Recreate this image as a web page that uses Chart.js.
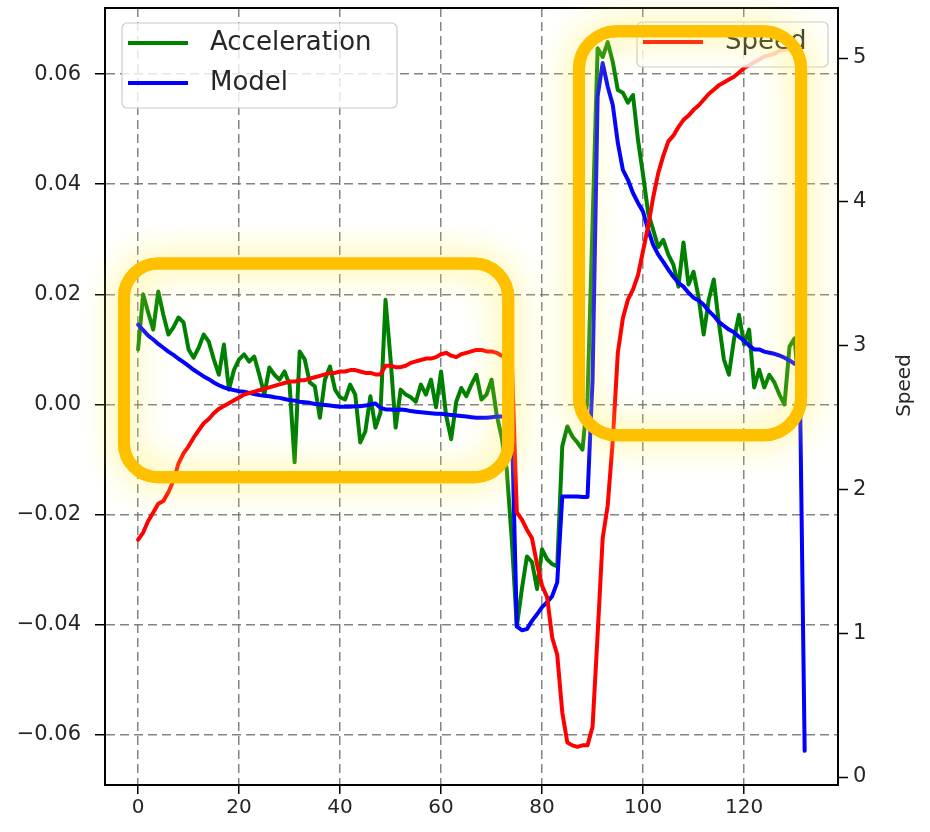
<!DOCTYPE html>
<html>
<head>
<meta charset="utf-8">
<script src="https://cdn.jsdelivr.net/npm/chart.js@4.4.1/dist/chart.umd.min.js"></script>
<style>
  html, body { margin: 0; padding: 0; background: #fff; }
  #wrap { width: 930px; height: 832px; position: relative; }
</style>
</head>
<body>
<div id="wrap"><canvas id="chart-accel"></canvas></div>
<script>
// sample index along x
var steps = [];
for (var i = 0; i <= 132; i++) steps.push(i);

var acceleration = [
    0.0100, 0.0200, 0.0167, 0.0136, 0.0205, 0.0163, 0.0127, 0.0140, 0.0158, 0.0149,
    0.0100, 0.0085, 0.0103, 0.0127, 0.0114, 0.0082, 0.0054, 0.0109, 0.0027, 0.0063,
    0.0082, 0.0091, 0.0078, 0.0087, 0.0054, 0.0018, 0.0067, 0.0054, 0.0045, 0.0060,
    0.0036, -0.0105, 0.0096, 0.0082, 0.0040, 0.0033, -0.0024, 0.0045, 0.0069, 0.0027,
    0.0013, 0.0009, 0.0036, 0.0018, -0.0069, -0.0049, 0.0015, -0.0042, -0.0015, 0.0190,
    0.0082, -0.0042, 0.0027, 0.0018, 0.0013, 0.0005, 0.0036, 0.0018, 0.0045, -0.0005,
    0.0060, -0.0020, -0.0063, 0.0005, 0.0030, 0.0015, 0.0036, 0.0054, 0.0009, 0.0018,
    0.0045, -0.0018, -0.0060, -0.0118, -0.0245, -0.0403, -0.0335, -0.0276, -0.0286, -0.0335,
    -0.0263, -0.0281, -0.0290, -0.0294, -0.0076, -0.0040, -0.0058, -0.0069, -0.0082, 0.0012,
    0.0330, 0.0647, 0.0631, 0.0658, 0.0622, 0.0571, 0.0566, 0.0548, 0.0562, 0.0480,
    0.0417, 0.0348, 0.0317, 0.0286, 0.0299, 0.0272, 0.0254, 0.0214, 0.0294, 0.0218,
    0.0241, 0.0194, 0.0127, 0.0190, 0.0227, 0.0149, 0.0082, 0.0054, 0.0118, 0.0163,
    0.0109, 0.0136, 0.0031, 0.0063, 0.0031, 0.0054, 0.0040, 0.0018, 0.0000, 0.0105,
    0.0120, 0.0015, null
];

var model = [
    0.0145, 0.0135, 0.0125, 0.0118, 0.0110, 0.0103, 0.0096, 0.0090, 0.0083, 0.0077,
    0.0070, 0.0063, 0.0057, 0.0051, 0.0046, 0.0040, 0.0035, 0.0031, 0.0028, 0.0026,
    0.0024, 0.0023, 0.0021, 0.0019, 0.0017, 0.0016, 0.0015, 0.0013, 0.0012, 0.0010,
    0.0008, 0.0007, 0.0005, 0.0004, 0.0003, 0.0001, 0.0000, -0.0001, -0.0002, -0.0003,
    -0.0004, -0.0004, -0.0004, -0.0003, -0.0003, -0.0002, 0.0000, 0.0002, -0.0006, -0.0009,
    -0.0009, -0.0010, -0.0009, -0.0010, -0.0012, -0.0013, -0.0014, -0.0015, -0.0016, -0.0017,
    -0.0017, -0.0018, -0.0019, -0.0020, -0.0021, -0.0022, -0.0023, -0.0024, -0.0024, -0.0024,
    -0.0023, -0.0022, -0.0022, -0.0023, -0.0030, -0.0403, -0.0410, -0.0408, -0.0393, -0.0381,
    -0.0368, -0.0359, -0.0348, -0.0323, -0.0167, -0.0167, -0.0167, -0.0167, -0.0168, -0.0168,
    0.0045, 0.0560, 0.0620, 0.0577, 0.0544, 0.0475, 0.0426, 0.0408, 0.0384, 0.0366,
    0.0350, 0.0317, 0.0290, 0.0272, 0.0259, 0.0245, 0.0232, 0.0221, 0.0214, 0.0203,
    0.0194, 0.0189, 0.0181, 0.0170, 0.0161, 0.0150, 0.0143, 0.0136, 0.0131, 0.0123,
    0.0116, 0.0107, 0.0100, 0.0100, 0.0096, 0.0094, 0.0092, 0.0089, 0.0085, 0.0080,
    0.0074, 0.0073, -0.0629
];

var speed = [
    1.65, 1.70, 1.78, 1.84, 1.90, 1.92, 1.98, 2.06, 2.18, 2.25,
    2.30, 2.36, 2.41, 2.46, 2.49, 2.53, 2.56, 2.58, 2.60, 2.62,
    2.64, 2.66, 2.67, 2.68, 2.69, 2.70, 2.71, 2.72, 2.73, 2.74,
    2.75, 2.75, 2.76, 2.76, 2.77, 2.78, 2.79, 2.80, 2.81, 2.81,
    2.82, 2.82, 2.83, 2.83, 2.82, 2.81, 2.81, 2.80, 2.80, 2.86,
    2.86, 2.85, 2.85, 2.86, 2.88, 2.89, 2.90, 2.91, 2.91, 2.92,
    2.94, 2.95, 2.93, 2.92, 2.94, 2.95, 2.96, 2.97, 2.97, 2.96,
    2.96, 2.95, 2.93, 2.92, 2.90, 1.84, 1.79, 1.72, 1.66, 1.48,
    1.33, 1.25, 0.97, 0.85, 0.45, 0.24, 0.22, 0.21, 0.22, 0.22,
    0.35, 0.99, 1.66, 1.89, 2.34, 2.95, 3.19, 3.32, 3.39, 3.49,
    3.66, 3.83, 4.03, 4.20, 4.32, 4.42, 4.46, 4.52, 4.57, 4.60,
    4.64, 4.67, 4.71, 4.75, 4.78, 4.81, 4.83, 4.85, 4.87, 4.90,
    4.93, 4.95, 4.97, 4.99, 5.01, 5.02, 5.03, 5.05, 5.06, 5.06,
    5.07, 5.08, 2.67
];

var xTicks = [0, 20, 40, 60, 80, 100, 120];
var accelTicks = [-0.06, -0.04, -0.02, 0.00, 0.02, 0.04, 0.06];
var speedTicks = [0, 1, 2, 3, 4, 5];

// highlighted regions, in data units of x / left axis
var highlights = [
    { x0: -2.8, x1: 73.3, y0: 0.0256, y1: -0.0132, r: 34 },
    { x0: 87.3, x1: 131.3, y0: 0.0678, y1: -0.0056, r: 38 }
];

Chart.defaults.font.family = "'DejaVu Sans', sans-serif";
Chart.defaults.color = '#262626';

function toPoints(values) {
    return values.map(function(v, k) { return { x: steps[k], y: v }; });
}

function roundRect(ctx, x, y, w, h, r) {
    ctx.beginPath();
    ctx.moveTo(x + r, y);
    ctx.lineTo(x + w - r, y);
    ctx.arcTo(x + w, y, x + w, y + r, r);
    ctx.lineTo(x + w, y + h - r);
    ctx.arcTo(x + w, y + h, x + w - r, y + h, r);
    ctx.lineTo(x + r, y + h);
    ctx.arcTo(x, y + h, x, y + h - r, r);
    ctx.lineTo(x, y + r);
    ctx.arcTo(x, y, x + r, y, r);
    ctx.closePath();
}

function drawLegend(ctx, x, y, w, h, items) {
    ctx.save();
    roundRect(ctx, x, y, w, h, 5);
    ctx.fillStyle = 'rgba(255,255,255,0.8)';
    ctx.fill();
    ctx.strokeStyle = '#cccccc';
    ctx.lineWidth = 1.2;
    ctx.stroke();
    ctx.font = "26px 'DejaVu Sans', sans-serif";
    ctx.textBaseline = 'middle';
    items.forEach(function(it, k) {
        var ly = y + 20 + k * 40;
        ctx.beginPath();
        ctx.moveTo(x + 6, ly);
        ctx.lineTo(x + 66, ly);
        ctx.strokeStyle = it.borderColor;
        ctx.lineWidth = 4;
        ctx.stroke();
        ctx.fillStyle = '#262626';
        ctx.fillText(it.label, x + 88, ly);
    });
    ctx.restore();
}

var overlay = {
    id: 'overlay',
    afterDatasetsDraw: function(chart) {
        var ctx = chart.ctx, a = chart.chartArea;
        var ds = chart.data.datasets;
        // top spine
        ctx.save();
        ctx.strokeStyle = '#000';
        ctx.lineWidth = 2;
        ctx.beginPath();
        ctx.moveTo(a.left, a.top);
        ctx.lineTo(a.right, a.top);
        ctx.stroke();
        ctx.restore();

        drawLegend(ctx, a.left + 17, a.top + 15, 275, 85, [ds[2], ds[1]]);
        drawLegend(ctx, a.right - 201, a.top + 14, 191, 45, [ds[0]]);
    },
    afterDraw: function(chart) {
        var ctx = chart.ctx, a = chart.chartArea;
        var sx = chart.scales.x, sy = chart.scales.y;

        highlights.forEach(function(h) {
            var x0 = sx.getPixelForValue(h.x0), x1 = sx.getPixelForValue(h.x1);
            var y0 = sy.getPixelForValue(h.y0), y1 = sy.getPixelForValue(h.y1);
            ctx.save();
            ctx.lineWidth = 12;
            ctx.strokeStyle = '#FFC000';
            ctx.shadowColor = 'rgba(255,240,70,0.9)';
            ctx.shadowBlur = 34;
            roundRect(ctx, x0, y0, x1 - x0, y1 - y0, h.r);
            ctx.stroke();
            ctx.shadowBlur = 0;
            ctx.shadowColor = 'transparent';
            roundRect(ctx, x0, y0, x1 - x0, y1 - y0, h.r);
            ctx.stroke();
            ctx.restore();
        });

        // right axis title
        ctx.save();
        ctx.translate(905, (a.top + a.bottom) / 2 - 11);
        ctx.rotate(-Math.PI / 2);
        ctx.font = "20px 'DejaVu Sans', sans-serif";
        ctx.fillStyle = '#262626';
        ctx.textAlign = 'center';
        ctx.textBaseline = 'middle';
        ctx.fillText('Speed', 0, 0);
        ctx.restore();
    }
};

function fixWidth(w) {
    return function(scale) {
        scale.width = w;
        scale.paddingTop = 0;
        scale.paddingBottom = 0;
    };
}

var gridColor = 'rgba(110,110,110,0.85)';

var myChart = new Chart(document.getElementById('chart-accel'), {
    type: 'line',
    data: {
        datasets: [{
            label: 'Speed',
            data: toPoints(speed),
            yAxisID: 'y1',
            borderColor: '#ff0000',
            borderWidth: 4,
            order: 0
        }, {
            label: 'Model',
            data: toPoints(model),
            yAxisID: 'y',
            borderColor: '#0000ff',
            borderWidth: 4,
            order: 1
        }, {
            label: 'Acceleration',
            data: toPoints(acceleration),
            yAxisID: 'y',
            borderColor: '#008000',
            borderWidth: 4,
            order: 2
        }]
    },
    options: {
        responsive: true,
        maintainAspectRatio: false,
        animation: false,
        layout: { padding: { top: 8, left: 0, right: 0, bottom: 0 } },
        elements: {
            point: { radius: 0, hoverRadius: 0 },
            line: { tension: 0, borderJoinStyle: 'round', borderCapStyle: 'round' }
        },
        plugins: {
            legend: { display: false },
            tooltip: { enabled: false }
        },
        scales: {
            x: {
                type: 'linear',
                min: -6.55,
                max: 138.6,
                afterBuildTicks: function(s) { s.ticks = xTicks.map(function(v) { return { value: v }; }); },
                afterFit: function(s) { s.height = 47; s.paddingLeft = 0; s.paddingRight = 0; },
                ticks: {
                    font: { size: 20 },
                    padding: 2,
                    maxRotation: 0,
                    autoSkip: false,
                    callback: function(v) { return String(v); }
                },
                grid: {
                    color: gridColor,
                    lineWidth: 1.5,
                    tickLength: 9,
                    tickColor: '#000',
                    tickWidth: 1.5
                },
                border: { color: '#000', width: 2, dash: [9, 5] }
            },
            y: {
                position: 'left',
                min: -0.0691,
                max: 0.0720,
                afterBuildTicks: function(s) { s.ticks = accelTicks.map(function(v) { return { value: v }; }); },
                afterFit: fixWidth(105),
                ticks: {
                    font: { size: 21 },
                    padding: 14,
                    autoSkip: false,
                    callback: function(v) {
                        return (v < -1e-9 ? '\u2212' : '') + Math.abs(v).toFixed(2);
                    }
                },
                grid: {
                    color: gridColor,
                    lineWidth: 1.5,
                    tickLength: 10,
                    tickColor: '#000',
                    tickWidth: 1.5
                },
                border: { color: '#000', width: 2, dash: [9, 5] }
            },
            y1: {
                position: 'right',
                min: -0.0556,
                max: 5.348,
                afterBuildTicks: function(s) { s.ticks = speedTicks.map(function(v) { return { value: v }; }); },
                afterFit: fixWidth(92),
                ticks: {
                    font: { size: 21 },
                    padding: 5,
                    autoSkip: false,
                    callback: function(v) { return String(v); }
                },
                grid: {
                    drawOnChartArea: false,
                    tickLength: 10,
                    tickColor: '#000',
                    tickWidth: 1.5
                },
                border: { color: '#000', width: 2 }
            }
        }
    },
    plugins: [overlay]
});
</script>
</body>
</html>
